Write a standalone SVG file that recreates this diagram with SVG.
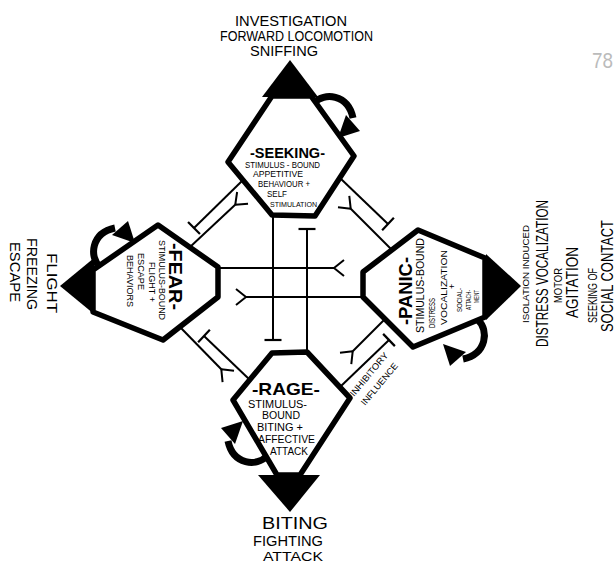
<svg xmlns="http://www.w3.org/2000/svg" width="616" height="563" viewBox="0 0 616 563">
<style>
 .hex{fill:#fff;stroke:#000;stroke-width:5.5;stroke-linejoin:round}
 .tri{fill:#000}
 .c{fill:none;stroke:#000;stroke-width:2}
 .t{font-family:"Liberation Sans",Arial,sans-serif;fill:#000}
 .b{font-weight:bold}
 .arc{fill:none;stroke:#000;stroke-width:7}
</style>
<defs>
 <marker id="tee" markerUnits="userSpaceOnUse" viewBox="-12 -12 24 24" markerWidth="24" markerHeight="24" refX="0" refY="0" orient="auto"><path d="M0,-8.5 L0,8.5" stroke="#000" stroke-width="2.2" fill="none"/></marker>
 <marker id="fork" markerUnits="userSpaceOnUse" viewBox="-12 -12 24 24" markerWidth="24" markerHeight="24" refX="0" refY="0" orient="auto"><path d="M-1,0 L9,-8 M-1,0 L9,8" stroke="#000" stroke-width="2" fill="none"/></marker>
 <g id="curl"><path class="arc" d="M3,7 C13,-4 37,-2 42,22"/><polygon points="35,19 49,35 27,42" fill="#000"/></g>
</defs>
<rect width="616" height="563" fill="#fff"/>

<g id="connectors">
 <path class="c" d="M273,216 L273,340" marker-end="url(#tee)"/>
 <path class="c" d="M307,352 L307,229" marker-end="url(#tee)"/>
 <path class="c" d="M218,268 L335,268" marker-end="url(#fork)"/>
 <path class="c" d="M363,297 L245,297" marker-end="url(#fork)"/>
 <path class="c" d="M243,180 L194,228" marker-end="url(#tee)"/>
 <path class="c" d="M190,247 L236,204" marker-end="url(#fork)"/>
 <path class="c" d="M340,178 L388,224" marker-end="url(#tee)"/>
 <path class="c" d="M392,250 L350,208" marker-end="url(#fork)"/>
 <path class="c" d="M180,327 L222,370" marker-end="url(#fork)"/>
 <path class="c" d="M250,380 L204,336" marker-end="url(#tee)"/>
 <path class="c" d="M385,319 L352,352" marker-end="url(#fork)"/>
 <path class="c" d="M340,387 L389,340" marker-end="url(#tee)"/>
 <text class="t" font-size="9" transform="translate(354,397) rotate(-50)" textLength="54" lengthAdjust="spacingAndGlyphs">INHIBITORY</text>
 <text class="t" font-size="9" transform="translate(365,406) rotate(-50)" textLength="52" lengthAdjust="spacingAndGlyphs">INFLUENCE</text>
</g>

<g id="seeking">
 <polygon class="hex" points="272,96 311,96 354,156 315,216 272,215 228,162"/>
 <polygon class="tri" points="290,60 262,97 318,97"/>
 <use href="#curl" transform="translate(311,96)"/>
 <text class="t b" font-size="15" x="250" y="158" textLength="75" lengthAdjust="spacingAndGlyphs">-SEEKING-</text>
 <text class="t" font-size="8.5" x="245" y="168" textLength="75" lengthAdjust="spacingAndGlyphs">STIMULUS - BOUND</text>
 <text class="t" font-size="8.5" x="253" y="177" textLength="50" lengthAdjust="spacingAndGlyphs">APPETITIVE</text>
 <text class="t" font-size="8.5" x="258" y="187" textLength="52" lengthAdjust="spacingAndGlyphs">BEHAVIOUR +</text>
 <text class="t" font-size="8.5" x="267" y="197" textLength="20" lengthAdjust="spacingAndGlyphs">SELF</text>
 <text class="t" font-size="8" x="270" y="207" textLength="47" lengthAdjust="spacingAndGlyphs">STIMULATION</text>
</g>
<g id="seeking-output">
 <text class="t" font-size="14" x="235" y="26" textLength="112" lengthAdjust="spacingAndGlyphs">INVESTIGATION</text>
 <text class="t" font-size="14" x="220" y="41" textLength="153" lengthAdjust="spacingAndGlyphs">FORWARD LOCOMOTION</text>
 <text class="t" font-size="14" x="250" y="56" textLength="68" lengthAdjust="spacingAndGlyphs">SNIFFING</text>
</g>

<g id="fear">
 <polygon class="hex" points="93,270 158,225 218,267 218,297 163,340 93,312"/>
 <polygon class="tri" points="60,286 94,258 94,314"/>
 <use href="#curl" transform="translate(93,270) rotate(-90)"/>
 <text class="t b" font-size="19" transform="translate(169,243) rotate(90)" textLength="67" lengthAdjust="spacingAndGlyphs">-FEAR-</text>
 <text class="t" font-size="9.5" transform="translate(159,240) rotate(90)" textLength="80" lengthAdjust="spacingAndGlyphs">STIMULUS-BOUND</text>
 <text class="t" font-size="9.5" transform="translate(149,262) rotate(90)" textLength="40" lengthAdjust="spacingAndGlyphs">FLIGHT +</text>
 <text class="t" font-size="9.5" transform="translate(138,253) rotate(90)" textLength="37" lengthAdjust="spacingAndGlyphs">ESCAPE</text>
 <text class="t" font-size="9" transform="translate(127,255) rotate(90)" textLength="52" lengthAdjust="spacingAndGlyphs">BEHAVIORS</text>
</g>
<g id="fear-output">
 <text class="t" font-size="15" transform="translate(47,253) rotate(90)" textLength="60" lengthAdjust="spacingAndGlyphs">FLIGHT</text>
 <text class="t" font-size="15" transform="translate(27,238) rotate(90)" textLength="72" lengthAdjust="spacingAndGlyphs">FREEZING</text>
 <text class="t" font-size="15" transform="translate(10,242) rotate(90)" textLength="60" lengthAdjust="spacingAndGlyphs">ESCAPE</text>
</g>

<g id="panic">
 <polygon class="hex" points="363,272 418,230 485,258 485,317 413,347 363,297"/>
 <polygon class="tri" points="486,254 486,320 521,286"/>
 <use href="#curl" transform="translate(485,317) rotate(90)"/>
 <text class="t b" font-size="19" transform="translate(412,325) rotate(-90)" textLength="68" lengthAdjust="spacingAndGlyphs">-PANIC-</text>
 <text class="t" font-size="10" transform="translate(424,333) rotate(-90)" textLength="95" lengthAdjust="spacingAndGlyphs">STIMULUS-BOUND</text>
 <text class="t" font-size="9" transform="translate(435,328) rotate(-90)" textLength="30" lengthAdjust="spacingAndGlyphs">DISTRESS</text>
 <text class="t" font-size="9.5" transform="translate(447,325) rotate(-90)" textLength="75" lengthAdjust="spacingAndGlyphs">VOCALIZATION</text>
 <text class="t" font-size="9" transform="translate(455,289) rotate(-90)">+</text>
 <text class="t" font-size="8" transform="translate(462,312) rotate(-90)" textLength="24" lengthAdjust="spacingAndGlyphs">SOCIAL-</text>
 <text class="t" font-size="8" transform="translate(471,310) rotate(-90)" textLength="20" lengthAdjust="spacingAndGlyphs">ATTACH-</text>
 <text class="t" font-size="8" transform="translate(479,303) rotate(-90)" textLength="13" lengthAdjust="spacingAndGlyphs">MENT</text>
</g>
<g id="panic-output">
 <text class="t" font-size="9" transform="translate(529,323) rotate(-90)" textLength="98" lengthAdjust="spacingAndGlyphs">ISOLATION INDUCED</text>
 <text class="t" font-size="17" transform="translate(548,347) rotate(-90)" textLength="147" lengthAdjust="spacingAndGlyphs">DISTRESS VOCALIZATION</text>
 <text class="t" font-size="11" transform="translate(562,303) rotate(-90)" textLength="35" lengthAdjust="spacingAndGlyphs">MOTOR</text>
 <text class="t" font-size="16" transform="translate(578,318) rotate(-90)" textLength="71" lengthAdjust="spacingAndGlyphs">AGITATION</text>
 <text class="t" font-size="13" transform="translate(597,323) rotate(-90)" textLength="55" lengthAdjust="spacingAndGlyphs">SEEKING OF</text>
 <text class="t" font-size="17" transform="translate(613,332) rotate(-90)" textLength="112" lengthAdjust="spacingAndGlyphs">SOCIAL CONTACT</text>
</g>

<g id="rage">
 <polygon class="hex" points="272,353 307,352 350,398 300,475 277,475 233,400"/>
 <polygon class="tri" points="258,475 320,475 290,512"/>
 <use href="#curl" transform="translate(270,463) rotate(180)"/>
 <text class="t b" font-size="17" x="252" y="395" textLength="68" lengthAdjust="spacingAndGlyphs">-RAGE-</text>
 <text class="t" font-size="10" x="248" y="408" textLength="59" lengthAdjust="spacingAndGlyphs">STIMULUS-</text>
 <text class="t" font-size="10" x="262" y="419" textLength="38" lengthAdjust="spacingAndGlyphs">BOUND</text>
 <text class="t" font-size="10" x="257" y="431" textLength="46" lengthAdjust="spacingAndGlyphs">BITING +</text>
 <text class="t" font-size="10" x="258" y="443" textLength="57" lengthAdjust="spacingAndGlyphs">AFFECTIVE</text>
 <text class="t" font-size="10" x="270" y="455" textLength="38" lengthAdjust="spacingAndGlyphs">ATTACK</text>
</g>
<g id="rage-output">
 <text class="t" font-size="17" x="262" y="529" textLength="66" lengthAdjust="spacingAndGlyphs">BITING</text>
 <text class="t" font-size="14" x="253" y="546" textLength="70" lengthAdjust="spacingAndGlyphs">FIGHTING</text>
 <text class="t" font-size="13" x="263" y="561" textLength="60" lengthAdjust="spacingAndGlyphs">ATTACK</text>
</g>

<text class="t" font-size="22" x="592" y="68" style="fill:#bbb" textLength="21" lengthAdjust="spacingAndGlyphs">78</text>
</svg>
